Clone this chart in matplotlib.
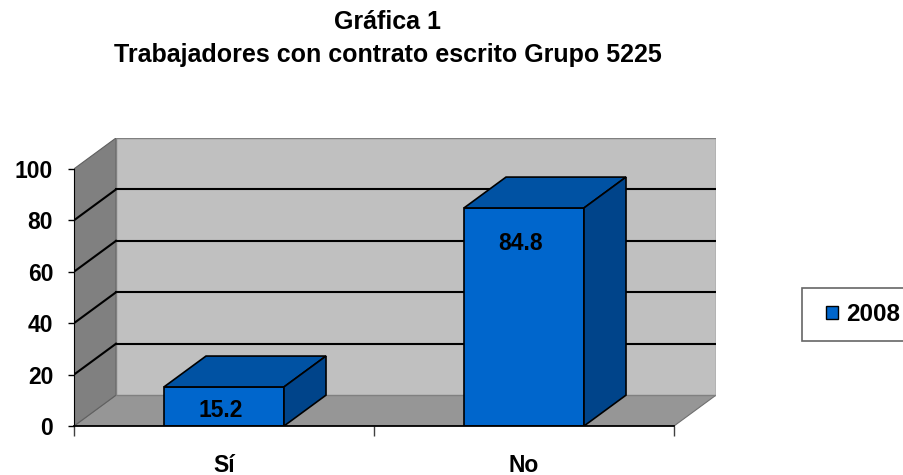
import matplotlib.pyplot as plt
from matplotlib.patches import Polygon, Patch
from matplotlib.legend_handler import HandlerPatch

# Chart data
categories = ['Sí', 'No']
values = [15.2, 84.8]
series_name = '2008'
yticks = [0, 20, 40, 60, 80, 100]

title_1 = 'Gráfica 1'
title_2 = 'Trabajadores con contrato escrito Grupo 5225'

# 3D look: depth offset in category units (x) and value units (y)
DX = 0.14
DY = 12.0
BAR_W = 0.4

FRONT = '#0066cc'
TOP = '#0052a3'
SIDE = '#00448a'
FS = 16.5

plt.rcParams['font.family'] = ['Liberation Sans', 'DejaVu Sans']
plt.rcParams['font.weight'] = 'bold'

fig = plt.figure(figsize=(9.04, 4.75), dpi=100)
ax = fig.add_axes([74 / 904, 49 / 475, 642 / 904, 288 / 475])
ax.patch.set_visible(False)

n = len(categories)
ymax = yticks[-1]
ax.set_xlim(0, n + DX)
ax.set_ylim(0, ymax + DY)

# walls and floor
floor = Polygon([(0, 0), (n, 0), (n + DX, DY), (DX, DY)],
                facecolor='#969696', edgecolor='#707070', lw=0.8, zorder=0)
left_wall = Polygon([(0, 0), (0, ymax), (DX, ymax + DY), (DX, DY)],
                    facecolor='#808080', edgecolor='#606060', lw=0.8, zorder=0)
back_wall = Polygon([(DX, DY), (n + DX, DY), (n + DX, ymax + DY), (DX, ymax + DY)],
                    facecolor='#c0c0c0', edgecolor='#808080', lw=1, zorder=0)
for p in (floor, left_wall, back_wall):
    ax.add_patch(p)

# gridlines on the left and back walls
for v in yticks[1:-1]:
    ax.plot([0, DX], [v, v + DY], color='black', lw=1.5, zorder=1)
    ax.plot([DX, n + DX], [v + DY, v + DY], color='black', lw=1.5, zorder=1)

# bars: front face, top and right side
xs = [i + 0.5 for i in range(n)]
ax.bar(xs, values, width=BAR_W, color=FRONT, edgecolor='black', lw=1.2, zorder=3)
for x, v in zip(xs, values):
    l, r = x - BAR_W / 2, x + BAR_W / 2
    top = Polygon([(l, v), (r, v), (r + DX, v + DY), (l + DX, v + DY)],
                  facecolor=TOP, edgecolor='black', lw=1.2, zorder=3)
    side = Polygon([(r, 0), (r + DX, DY), (r + DX, v + DY), (r, v)],
                   facecolor=SIDE, edgecolor='black', lw=1.2, zorder=3)
    ax.add_patch(top)
    ax.add_patch(side)
    ax.text(x - 0.01, max(v - 14, v * 0.4), f'{v}', ha='center', va='center',
            fontsize=FS, fontweight='bold', zorder=4)

# axes
for s in ('top', 'right'):
    ax.spines[s].set_visible(False)
ax.spines['left'].set_bounds(0, ymax)
ax.spines['bottom'].set_bounds(0, n)
ax.spines['left'].set_zorder(5)
ax.spines['bottom'].set_zorder(5)
ax.spines['bottom'].set_linewidth(1.3)

ax.set_yticks(yticks)
ax.set_yticklabels([str(t) for t in yticks], fontsize=FS, fontweight='bold')
ax.tick_params(axis='y', length=4, width=1, pad=11)

ax.set_xticks(range(n + 1))
ax.set_xticklabels([])
ax.set_xticks(xs, minor=True)
ax.set_xticklabels(categories, minor=True, fontsize=FS, fontweight='bold')
ax.tick_params(axis='x', which='major', length=7, width=1, color='#404040')
ax.tick_params(axis='x', which='minor', length=0, pad=20)

# title
fig.text(388 / 904, 1 - 29 / 475, title_1, ha='center', va='baseline',
         fontsize=18, fontweight='bold')
fig.text(388 / 904, 1 - 62 / 475, title_2, ha='center', va='baseline',
         fontsize=18, fontweight='bold')

# legend
leg = fig.legend(handles=[Patch(facecolor=FRONT, edgecolor='black', label=series_name)],
                 handler_map={Patch: HandlerPatch(xpad=0.35)},
                 loc='upper left', bbox_to_anchor=(802 / 904, 1 - 288 / 475),
                 borderaxespad=0, fancybox=False, frameon=True,
                 handlelength=0.85, handleheight=0.5, handletextpad=0.35,
                 borderpad=0.62, prop={'size': 17.5, 'weight': 'bold'})
leg.get_frame().set_edgecolor('#404040')
leg.get_frame().set_linewidth(1.2)

fig.savefig('out.png', dpi=100)
